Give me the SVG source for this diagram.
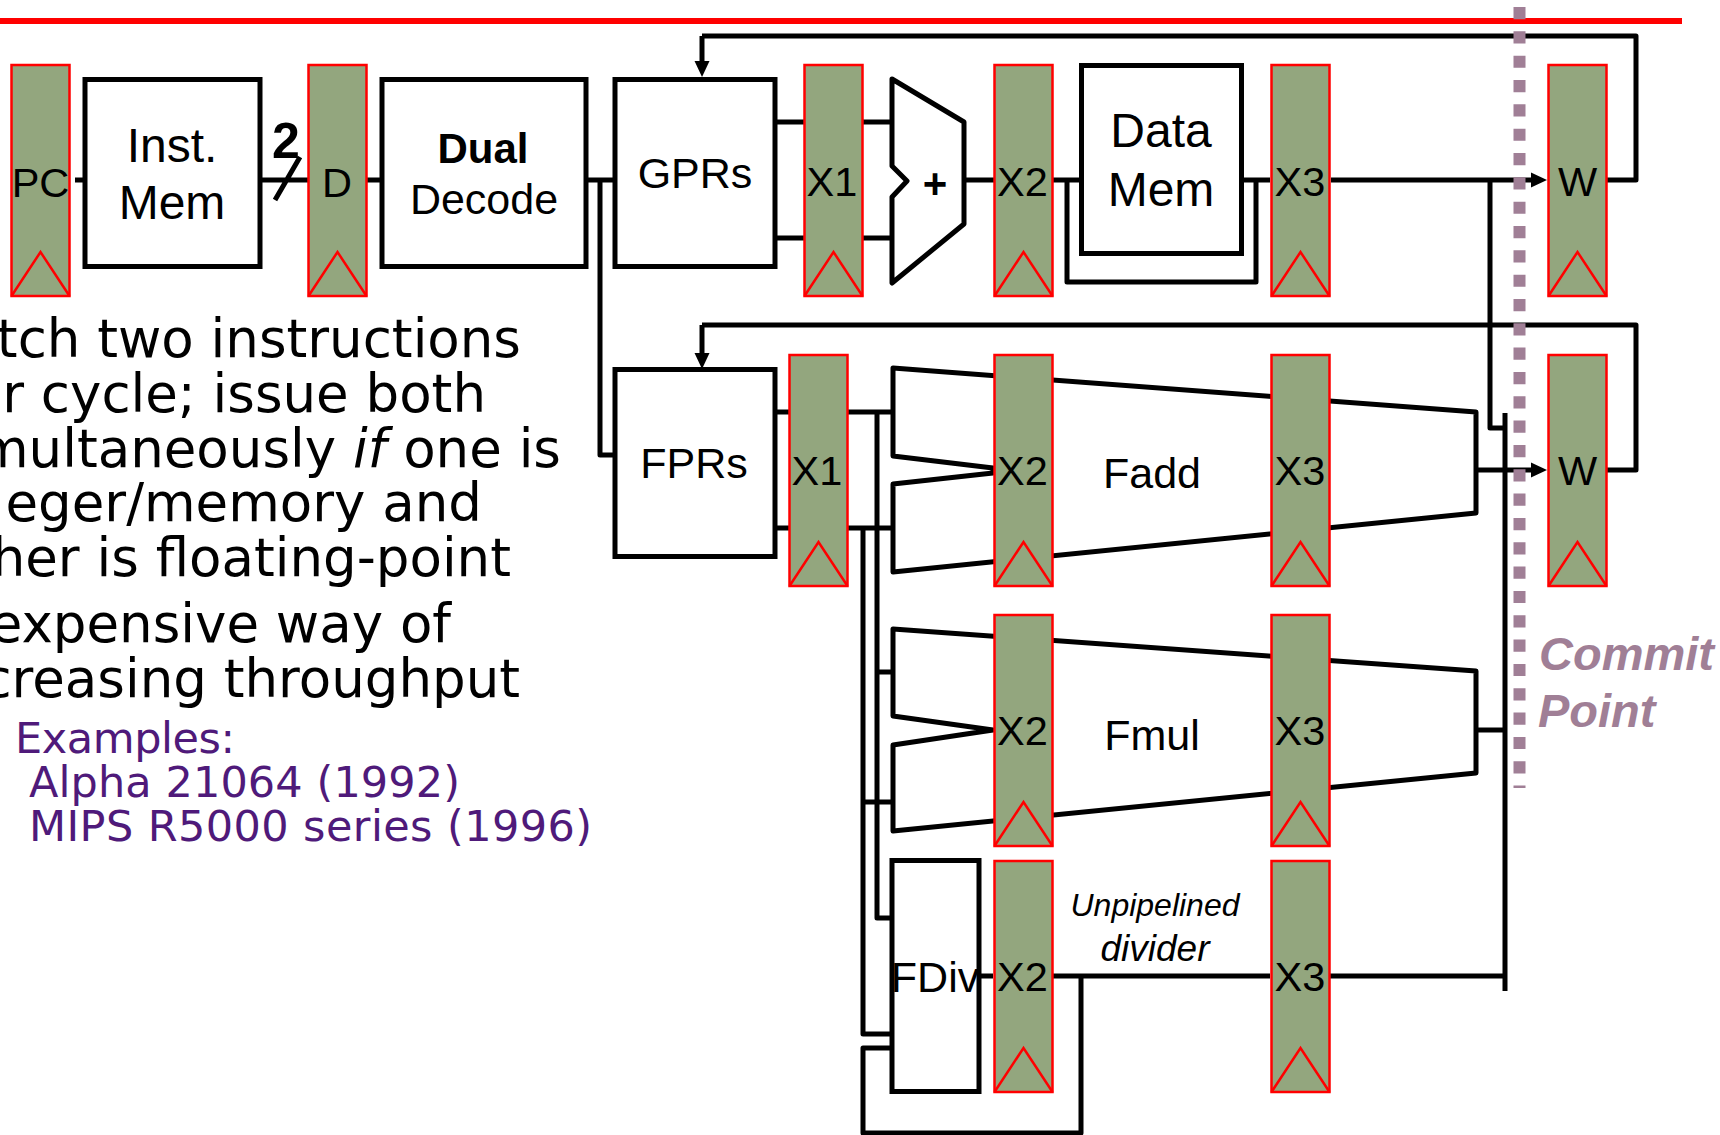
<svg xmlns="http://www.w3.org/2000/svg" width="1720" height="1135" viewBox="0 0 1720 1135">
<style>
text{font-family:"Liberation Sans",Arial,sans-serif;fill:#000;text-anchor:middle}
.r{font-size:41.500px}
.b{font-size:43px}
.m{font-size:48px}
.body{font-family:"DejaVu Sans",Verdana,sans-serif;font-size:53px;text-anchor:end}
.ex{font-family:"DejaVu Sans",Verdana,sans-serif;font-size:43px;text-anchor:start;fill:#4f1a7a}
.cp{font-size:47px;font-weight:bold;font-style:italic;fill:#a07f96;text-anchor:start}
.box{fill:#fff;stroke:#000;stroke-width:5;stroke-linejoin:miter}
.fu{fill:#fff;stroke:#000;stroke-width:5;stroke-linejoin:round}
.w{fill:none;stroke:#000;stroke-width:5;stroke-linejoin:round}
.a{marker-end:url(#arrow)}
.rg{fill:#93a67e;stroke:#f00;stroke-width:2.5}
.tr{fill:none;stroke:#f00;stroke-width:2.5}
</style>
<defs>
<marker id="arrow" markerUnits="userSpaceOnUse" markerWidth="16" markerHeight="16" viewBox="0 0 16 16" refX="4" refY="8" orient="auto"><path d="M0 0.5L16 8L0 15.5z" fill="#000"/></marker>
<g id="reg"><rect class="rg" x="0.500" y="1" width="58" height="231"/><path class="tr" d="M0.500 232L29.500 188L58.500 232"/></g>
</defs>
<rect width="1720" height="1135" fill="#fff"/>
<path d="M0 21H1682" stroke="#f00" stroke-width="6" fill="none"/>

<g id="connectors">
<path class="w" d="M75 180H84M262 180H308M275 200L300 157M367 180H382M586 180H615M600 180V455H615"/>
<path class="w" d="M777 122H804M777 238H804M863 122H892M863 238H892M964 180H994M1053 180H1080M1244 180H1270"/>
<path class="w" d="M1067 180V282H1256V180"/>
<path class="w a" d="M1331 180H1535"/>
<path class="w" d="M1607 180H1636V36H702"/>
<path class="w a" d="M702 36V65"/>
<path class="w" d="M1490 180V428H1505M1505 413V991"/>
<path class="w" d="M1607 470H1636V325H702"/>
<path class="w a" d="M702 325V357"/>
<path class="w" d="M777 412H789M777 528H789M848 412H893M848 528H893"/>
<path class="w" d="M877 412V918H893M863 528V1034H893M877 672H893M863 802H893"/>
<path class="w a" d="M1476 470H1535"/>
<path class="w" d="M1476 730H1505"/>
<path class="w" d="M893 1048H863V1133H1081V976M981 976H993M1053 976H1270M1330 976H1505"/>
</g>

<g id="adder"><path class="fu" d="M892 79L964 122V224L892 283V197L907 181L892 166Z"/><text x="935" y="198" style="font-size:42px;font-weight:bold">+</text></g>
<g id="fadd"><path class="fu" d="M893 368L1476 412V513L893 572V484L993 473V468L893 456Z"/><text class="b" x="1152" y="488">Fadd</text></g>
<g id="fmul"><path class="fu" d="M893 629L1476 671V773L893 831V745L993 730L893 716Z"/><text class="b" x="1152" y="750">Fmul</text></g>

<g id="inst-mem"><rect class="box" x="85" y="79.500" width="175" height="187"/><text class="m" x="172" y="162">Inst.</text><text class="m" x="172" y="219">Mem</text></g>
<g id="two"><text x="286" y="158" style="font-size:50px;font-weight:bold">2</text></g>
<g id="dual-decode"><rect class="box" x="382" y="79.500" width="204" height="187"/><text x="483" y="163" font-weight="bold" style="font-size:42px">Dual</text><text class="b" x="484" y="214">Decode</text></g>
<g id="gprs"><rect class="box" x="615" y="79.500" width="160" height="187"/><text class="b" x="695" y="188">GPRs</text></g>
<g id="data-mem"><rect class="box" x="1081.500" y="65.500" width="160" height="188"/><text class="m" x="1161" y="147">Data</text><text class="m" x="1161" y="206">Mem</text></g>
<g id="fprs"><rect class="box" x="615" y="369.500" width="160" height="187"/><text class="b" x="694" y="478">FPRs</text></g>
<g id="fdiv"><rect class="box" x="892" y="860.500" width="87" height="231"/><text class="b" x="935" y="992">FDiv</text></g>

<g id="pc"><use href="#reg" x="11" y="64"/><text class="r" x="40.500" y="197">PC</text></g>
<g id="d"><use href="#reg" x="308" y="64"/><text class="r" x="337" y="197">D</text></g>
<g id="x1-int"><use href="#reg" x="804" y="64"/><text class="r" x="832" y="196">X1</text></g>
<g id="x2-int"><use href="#reg" x="994" y="64"/><text class="r" x="1022.500" y="196">X2</text></g>
<g id="x3-int"><use href="#reg" x="1271" y="64"/><text class="r" x="1300" y="196">X3</text></g>
<g id="w-int"><use href="#reg" x="1548" y="64"/><text class="r" x="1577.500" y="196">W</text></g>
<g id="x1-fp"><use href="#reg" x="789" y="354"/><text class="r" x="817" y="485">X1</text></g>
<g id="x2-fadd"><use href="#reg" x="994" y="354"/><text class="r" x="1022.500" y="485">X2</text></g>
<g id="x3-fadd"><use href="#reg" x="1271" y="354"/><text class="r" x="1300" y="485">X3</text></g>
<g id="w-fp"><use href="#reg" x="1548" y="354"/><text class="r" x="1577.500" y="485">W</text></g>
<g id="x2-fmul"><use href="#reg" x="994" y="614"/><text class="r" x="1022.500" y="745">X2</text></g>
<g id="x3-fmul"><use href="#reg" x="1271" y="614"/><text class="r" x="1300" y="745">X3</text></g>
<g id="x2-fdiv"><use href="#reg" x="994" y="860"/><text class="r" x="1022.500" y="991">X2</text></g>
<g id="x3-fdiv"><use href="#reg" x="1271" y="860"/><text class="r" x="1300" y="991">X3</text></g>

<g id="unpipelined"><text x="1155" y="916" style="font-size:32px;font-style:italic">Unpipelined</text><text x="1155" y="961" style="font-size:37px;font-style:italic">divider</text></g>

<g id="commit"><path d="M1519.500 7V788" stroke="#a07f96" stroke-width="12" stroke-dasharray="12.200 12.130" fill="none"/><text class="cp" x="1539" y="670">Commit</text><text class="cp" x="1538" y="727">Point</text></g>

<g id="description">
<text class="body" x="521" y="357">tch two instructions</text>
<text class="body" x="486" y="412">r cycle; issue both</text>
<text class="body" x="561" y="467">multaneously <tspan font-style="italic">if</tspan> one is</text>
<text class="body" x="482" y="521">eger/memory and</text>
<text class="body" x="511" y="576">her is floating-point</text>
<text class="body" x="451" y="642">expensive way of</text>
<text class="body" x="520" y="697">creasing throughput</text>
<text class="ex" x="15" y="753" textLength="220">Examples:</text>
<text class="ex" x="29" y="797" textLength="431">Alpha 21064 (1992)</text>
<text class="ex" x="29" y="841" textLength="563">MIPS R5000 series (1996)</text>
</g>
</svg>
